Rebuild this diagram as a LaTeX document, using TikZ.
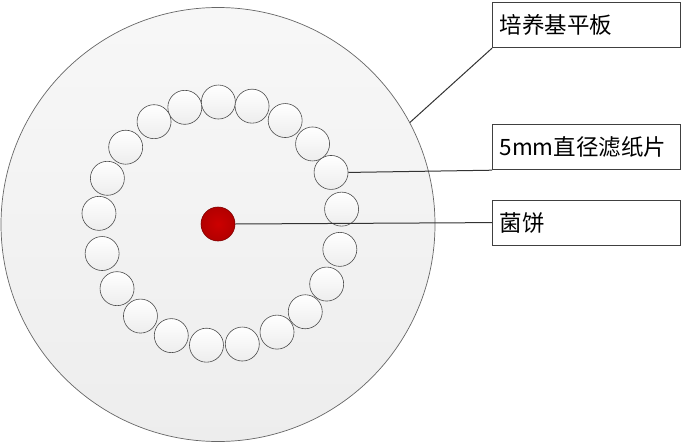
\documentclass[tikz,border=0pt]{standalone}
\usepackage{fontspec}
\setmainfont{Noto Sans CJK SC}
\tikzset{
    label box/.style={draw=black!75,line width=1.2pt,fill=white,anchor=north west,
        text width=174pt,inner xsep=7pt,minimum height=45pt,align=left,font=\fontsize{22.5}{25}\selectfont},
    disc/.style={circle,draw=black!70,line width=0.6pt,top color=white,bottom color=black!7,minimum size=34pt,inner sep=0pt},
    leader/.style={line width=1pt,black!80}
}
\begin{document}
\begin{tikzpicture}[x=1pt,y=-1pt]
    \useasboundingbox (0,0) rectangle (684,444);
    %% plate
    \node[circle,draw=black!60,line width=0.7pt,top color=black!3,bottom color=black!7,minimum size=434pt,inner sep=0pt] (plate) at (218,224.5) {};
    %% filter discs
    \foreach \a [count=\i] in {107,91,75,58,41,25,7,-12,-29.5,-46,-62.4,-79.7,-96.6,-113.8,-131,-148,-166,-185,-202,-219,-237}
        \node[disc] (disc\i) at ([shift={(220.5,224)}]-\a:122) {};
    %% fungus
    \node[circle,draw=red!50!black,line width=0.6pt,inner color=red!80!black,outer color=red!70!black,minimum size=34pt,inner sep=0pt] (dot) at (218,224) {};
    %% labels
    \node[label box] (plateL) at (492,2) {培养基平板};
    \node[label box] (discL) at (492,124) {5mm直径滤纸片};
    \node[label box] (dotL) at (492,199.5) {菌饼};
    %% leaders
    \draw[leader] (plate.28) -- (plateL.south west);
    \draw[leader] (disc6.east) -- (discL.south west);
    \draw[leader] (dot.east) -- (dotL.west);
\end{tikzpicture}
\end{document}
